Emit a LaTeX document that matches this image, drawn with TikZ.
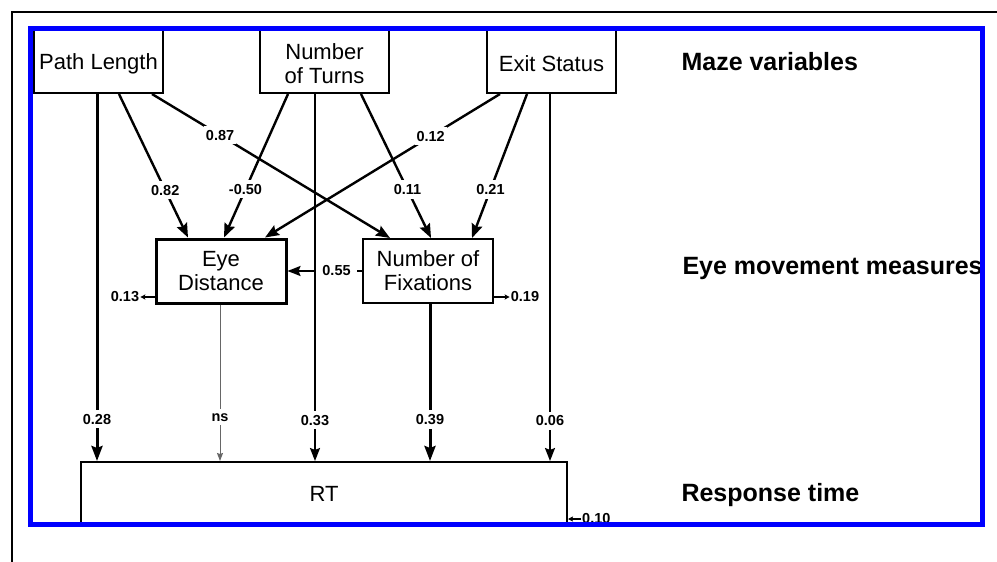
\documentclass[tikz,border=0pt]{standalone}
\usepackage{fontspec}
\setmainfont{Liberation Sans}
\usetikzlibrary{arrows.meta}
\definecolor{frameblue}{RGB}{0,0,255}
\begin{document}
\begin{tikzpicture}[x=1pt,y=-1pt,
  box/.style={draw, line width=2pt, minimum width=129pt, minimum height=64pt, inner sep=0pt, align=center, font=\fontsize{22}{24}\selectfont},
  toptext/.style={align=center, inner sep=0pt, yshift=-3pt, font=\fontsize{22}{24}\selectfont},
  side/.style={anchor=west, font=\fontsize{25}{27}\selectfont\bfseries},
  lab/.style={fill=white, inner xsep=2pt, inner ysep=4pt, font=\fontsize{14.5}{16}\selectfont\bfseries},
  elab/.style={inner sep=1pt, font=\fontsize{14.5}{16}\selectfont\bfseries},
  bigarr/.style={line width=3pt, -{Stealth[length=15pt,width=11pt,inset=2pt]}},
  diag/.style={line width=2.4pt, -{Stealth[length=14pt,width=11pt,inset=2pt]}},
  midarr/.style={line width=2pt, -{Stealth[length=13pt,width=10pt,inset=2pt]}},
  thinarr/.style={line width=1pt, draw=black!60, -{Stealth[length=8pt,width=6pt,inset=1pt]}},
  errarr/.style={line width=1.5pt, -{Stealth[length=5pt,width=5pt,inset=1pt]}}
]
\useasboundingbox (0,0) rectangle (997,562);
\fill[white] (0,0) rectangle (997,562);
\draw[line width=2pt] (997,12) -- (12,12) -- (12,562);

\begin{scope}
\clip (33,31) rectangle (980,522);
% maze variables
\node[box, label={[toptext]center:Path Length}] (pl) at (98.5,61) {};
\node[box, label={[toptext]center:Number\\of Turns}] (nt) at (324.5,61) {};
\node[box, label={[toptext]center:Exit Status}] (es) at (551.5,61) {};
% eye movement measures
\node[box, line width=3pt, minimum width=130pt] (ed) at (221,271) {Eye\\Distance};
\node[box, minimum width=130pt] (nf) at (428,271) {Number of\\Fixations};
% response time
\node[box, minimum width=486pt] (rt) at (324,494) {RT};

\node[side] (mv) at (678,62) {Maze variables};
\node[side] (em) at (679,268) {Eye movement measures};
\node[side] (rs) at (678,495) {Response time};

% diagonals
\draw[diag] ([xshift=20.5pt]pl.south) -- node[lab,pos=0.67]{0.82} ([xshift=-33pt]ed.north);
\draw[diag] ([xshift=53.5pt]pl.south) -- node[lab,pos=0.286]{0.87} ([xshift=-38pt]nf.north);
\draw[diag] ([xshift=-36.5pt]nt.south) -- node[lab,pos=0.664]{-0.50} ([xshift=3pt]ed.north);
\draw[diag] ([xshift=36.5pt]nt.south) -- node[lab,pos=0.664]{0.11} ([xshift=3pt]nf.north);
\draw[diag] ([xshift=-51.5pt]es.south) -- node[lab,pos=0.295]{0.12} ([xshift=44pt]ed.north);
\draw[diag] ([xshift=-24.5pt]es.south) -- node[lab,pos=0.664]{0.21} ([xshift=44pt]nf.north);

% verticals to RT
\draw[bigarr] ([xshift=-1.5pt]pl.south) -- node[lab,pos=0.886]{0.28} ([xshift=-1.5pt]pl.south |- rt.north);
\draw[thinarr] ([xshift=-1pt]ed.south) -- node[lab,pos=0.72,text=black]{ns} ([xshift=-1pt]ed.south |- rt.north);
\draw[midarr] ([xshift=-9.5pt]nt.south) -- node[lab,pos=0.889]{0.33} ([xshift=-9.5pt]nt.south |- rt.north);
\draw[bigarr] ([xshift=2pt]nf.south) -- node[lab,pos=0.736]{0.39} ([xshift=2pt]nf.south |- rt.north);
\draw[midarr] ([xshift=-1.5pt]es.south) -- node[lab,pos=0.89]{0.06} ([xshift=-1.5pt]es.south |- rt.north);

% fixations -> eye distance
\draw[midarr] (nf.west) -- node[lab,pos=0.342,inner xsep=6pt]{0.55} (ed.east);

% residuals
\node[elab] (e13) at (125,297) {0.13};
\draw[errarr] (ed.west |- e13) -- (e13.east);
\node[elab] (e19) at (525,297) {0.19};
\draw[errarr] (nf.east |- e19) -- (e19.west);
\node[elab, anchor=west] (e10) at (581,519) {0.10};
\draw[errarr] (e10.west) -- (rt.east |- e10);
\end{scope}

\draw[frameblue, line width=5pt] (30.5,28.5) rectangle (982.5,524.5);
\end{tikzpicture}
\end{document}
